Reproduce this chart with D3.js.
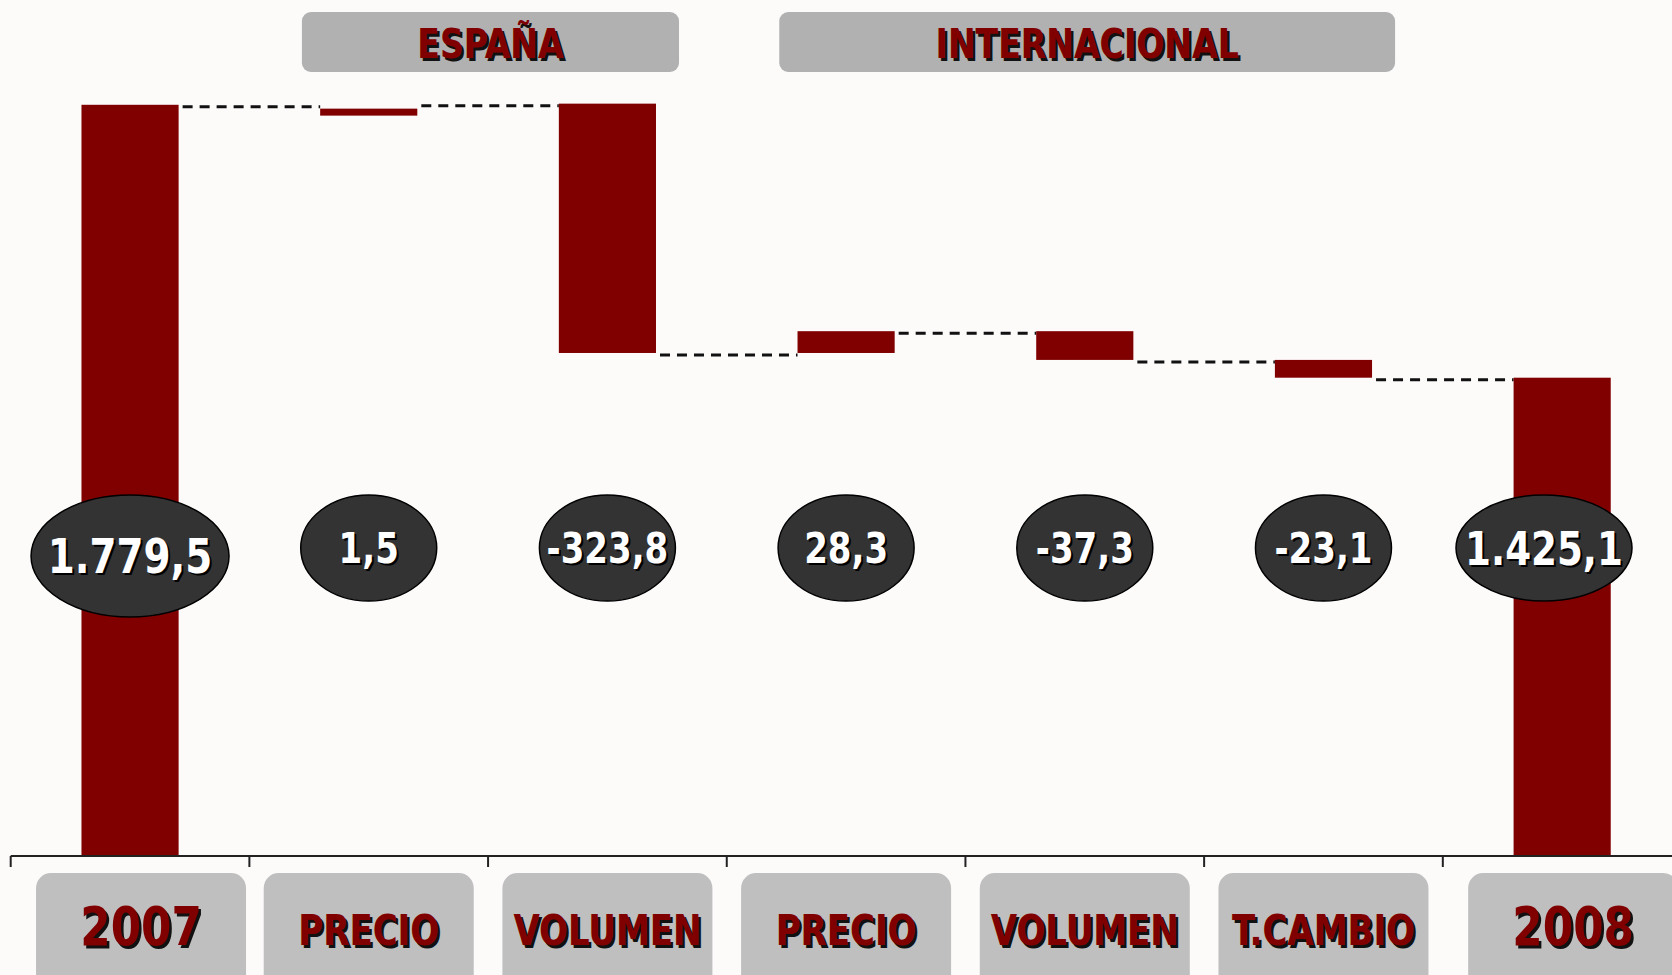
<!DOCTYPE html>
<html>
<head>
<meta charset="utf-8">
<script src="https://cdn.jsdelivr.net/npm/d3@7"></script>
<style>
  html, body { margin: 0; padding: 0; overflow: hidden; background: #fdfafa; }
  svg { display: block; }
</style>
</head>
<body>
<svg width="1672" height="975"></svg>
<script>
// waterfall data
var categories = ["2007", "PRECIO", "VOLUMEN", "PRECIO", "VOLUMEN", "T.CAMBIO", "2008"]
var values = [1779.5, 1.5, -323.8, 28.3, -37.3, -23.1, 1425.1]
var kinds = ["total", "delta", "delta", "delta", "delta", "delta", "total"]
var groupNames = ["ESPAÑA", "INTERNACIONAL"]
var groupFirst = [1, 3]
var groupLast = [2, 5]
var yDomain = [804, 1800]

var W = 1672, H = 975
var red = "#800000"
var labelFont = "'DejaVu Sans Condensed', 'DejaVu Sans', sans-serif"
var svg = d3.select("svg")

var fmt = d3.formatLocale({decimal: ",", thousands: ".", grouping: [3], currency: ["", ""], minus: "-"}).format(",.1f")

// running levels
var rows = []
var level = 0
values.forEach(function (v, i) {
    var start, end
    if (kinds[i] == "total") { start = yDomain[0]; end = v; level = v }
    else { start = level; end = level + v; level = end }
    rows.push({i: i, cat: categories[i], v: v, kind: kinds[i], start: start, end: end, level: level})
})

var x = d3.scaleBand().domain(d3.range(categories.length)).range([10.7, 1681.5]).paddingInner(0)
var bw = x.bandwidth()
var barW = bw * 0.407
var y = d3.scaleLinear().domain(yDomain).range([856, 89])
var cx = function (i) { return x(i) + bw / 2 }

// header group boxes
var heads = svg.append("g")
groupNames.forEach(function (name, g) {
    var x0 = x(groupFirst[g]) + bw * 0.22
    var x1 = x(groupLast[g]) + bw * 0.8
    heads.append("rect").attr("x", x0).attr("y", 12).attr("width", x1 - x0).attr("height", 60)
        .attr("rx", 9).attr("fill", "#b1b1b1")
    shadowText(heads, name, (x0 + x1) / 2, 58, 40, 0.92, red, "#111", 2.5)
})

// connectors
svg.append("g").selectAll("line").data(rows.slice(0, -1)).join("line")
    .attr("x1", function (d) { return cx(d.i) + barW / 2 + 4 })
    .attr("x2", function (d) { return cx(d.i + 1) - barW / 2 })
    .attr("y1", function (d) { return y(d.level) + 2 })
    .attr("y2", function (d) { return y(d.level) + 2 })
    .attr("stroke", "#111").attr("stroke-width", 3).attr("stroke-dasharray", "10,7")

// bars
svg.append("g").selectAll("rect").data(rows).join("rect")
    .attr("x", function (d) { return cx(d.i) - barW / 2 })
    .attr("y", function (d) { return y(Math.max(d.start, d.end)) + (d.kind == "delta" && Math.abs(d.v) < 5 ? 5 : 0) })
    .attr("width", barW)
    .attr("height", function (d) { return Math.max(7, Math.abs(y(d.start) - y(d.end))) })
    .attr("fill", red)

// axis line and band ticks
var axis = svg.append("g")
axis.append("line").attr("x1", 10.7).attr("x2", W).attr("y1", 856).attr("y2", 856)
    .attr("stroke", "#222").attr("stroke-width", 2)
axis.selectAll(".tick").data(d3.range(categories.length)).join("line")
    .attr("x1", function (i) { return x(i) }).attr("x2", function (i) { return x(i) })
    .attr("y1", 856).attr("y2", 867).attr("stroke", "#222").attr("stroke-width", 2)

// value ellipses
var bubbles = svg.append("g")
rows.forEach(function (d) {
    var big = d.kind == "total"
    var rx = big ? (d.i == 0 ? 99 : 88) : 68
    var ry = big ? (d.i == 0 ? 61 : 53) : 53
    var ex = Math.min(cx(d.i), W - rx - 40)
    var ey = d.i == 0 ? 556 : 548
    bubbles.append("ellipse").attr("cx", ex).attr("cy", ey).attr("rx", rx).attr("ry", ry)
        .attr("fill", "#333333").attr("stroke", "#000").attr("stroke-width", 1.5)
    var size = big ? (d.i == 0 ? 48 : 46) : 42
    shadowText(bubbles, fmt(d.v), ex, ey + size * 0.36, size, 0.9, "#fff", "#000", 2)
})

// category label boxes
var labs = svg.append("g")
rows.forEach(function (d) {
    var lx = cx(d.i) + (d.kind == "total" ? 11 : 0)
    labs.append("rect").attr("x", lx - 105).attr("y", 873).attr("width", 210).attr("height", 130)
        .attr("rx", 15).attr("fill", "#bfbfbf")
    var size = d.kind == "total" ? 54 : 42
    shadowText(labs, d.cat, lx, 945, size, 0.9, red, "#111", 2.5)
})

function shadowText(g, txt, tx, ty, size, sx, fill, shadow, off) {
    [[off, shadow], [0, fill]].forEach(function (p) {
        g.append("text").text(txt)
            .attr("transform", "translate(" + (tx + p[0]) + "," + (ty + p[0]) + ") scale(" + sx + ",1)")
            .attr("text-anchor", "middle")
            .attr("fill", p[1])
            .style("font-family", labelFont).style("font-weight", "bold").style("font-size", size + "px")
    })
}
</script>
</body>
</html>
